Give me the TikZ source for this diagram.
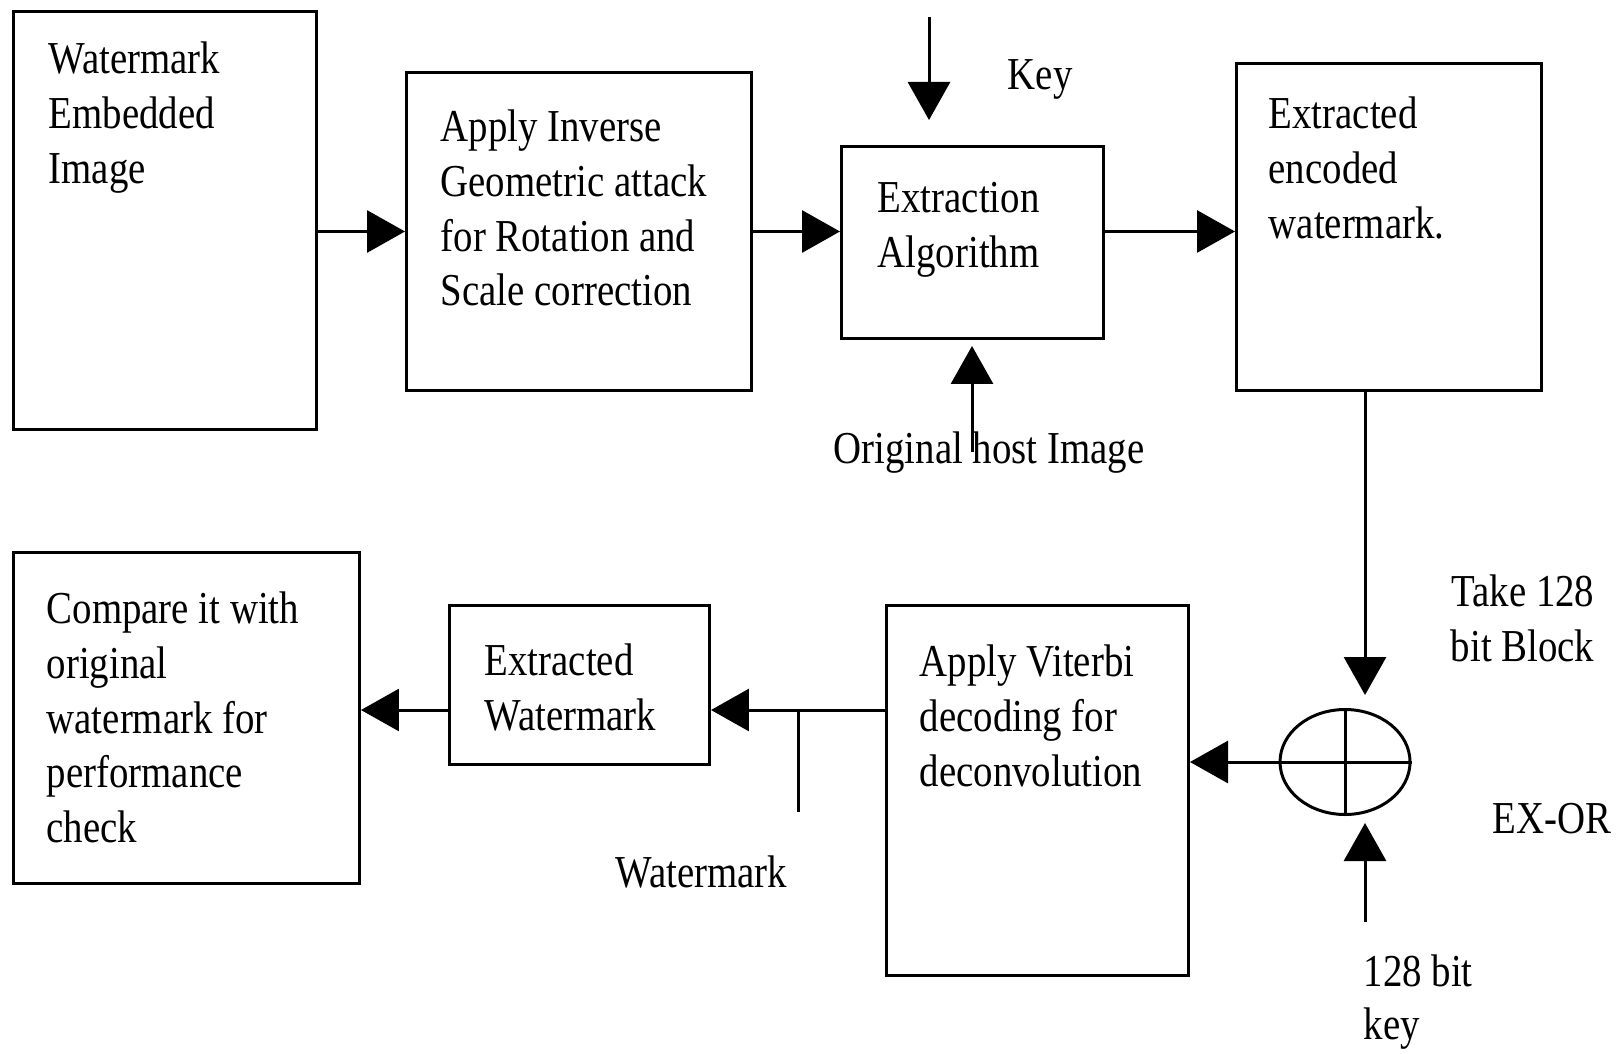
\documentclass[tikz,border=0pt]{standalone}
\usepackage{fontspec}
\setmainfont{Liberation Serif}[FakeStretch=0.85]
\usetikzlibrary{arrows.meta,shapes.geometric}
\tikzset{
  box/.style={draw, line width=0.85pt, inner sep=0pt, anchor=north west},
  lbl/.style={align=left, inner sep=0pt, anchor=north west, font=\fontsize{13}{15.6}\selectfont},
  tag/.style={inner sep=0pt, anchor=base west, font=\fontsize{13}{15.6}\selectfont},
  arr/.style={line width=0.85pt, -{Triangle[length=3.8mm,width=4.2mm]}}
}
\begin{document}
\begin{tikzpicture}[x=0.1mm, y=-0.1mm]
  \useasboundingbox (0,0) rectangle (1616,1053);
  % blocks
  \node[box, minimum width=30.3mm, minimum height=41.8mm] (img) at (12,10) {};
  \node[box, minimum width=34.5mm, minimum height=31.8mm] (inv) at (405,71) {};
  \node[box, minimum width=26.2mm, minimum height=19.2mm] (ext) at (840,145) {};
  \node[box, minimum width=30.5mm, minimum height=32.7mm] (enc) at (1235,62) {};
  \node[box, minimum width=30.2mm, minimum height=37.0mm] (vit) at (885,604) {};
  \node[box, minimum width=26.0mm, minimum height=15.9mm] (wm) at (448,604) {};
  \node[box, minimum width=34.6mm, minimum height=33.1mm] (cmp) at (12,551) {};
  \node[draw, ellipse, line width=0.85pt, inner sep=0pt,
    minimum width=13mm, minimum height=10.5mm] (xor) at (1345,762) {};
  \draw[line width=0.85pt] (xor.west) -- (xor.east) (xor.north) -- (xor.south);
  % texts
  \node[lbl] (imgtxt) at (48,41) {Watermark\\Embedded\\Image};
  \node[lbl] (invtxt) at (440,109) {Apply Inverse\\Geometric attack\\for Rotation and\\Scale correction};
  \node[lbl] (exttxt) at (877,182) {Extraction\\Algorithm};
  \node[lbl] (enctxt) at (1268,96) {Extracted\\encoded\\watermark.};
  \node[lbl] (vittxt) at (919,644) {Apply Viterbi\\decoding for\\deconvolution};
  \node[lbl] (wmtxt) at (484,643) {Extracted\\Watermark};
  \node[lbl] (cmptxt) at (46,591) {Compare it with\\original\\watermark for\\performance\\check};
  \node[tag] (key) at (1007,90) {Key};
  \node[tag] (host) at (833,463) {Original host Image};
  \node[tag] (wmk) at (615,887) {Watermark};
  \node[tag] (exor) at (1492,833) {EX-OR};
  \node[lbl, align=right, anchor=north east] (take) at (1595,574) {Take 128\\bit Block};
  \node[lbl, font=\fontsize{13}{15}\selectfont] (keybits) at (1363,954) {128 bit\\key};
  % free ends
  \coordinate (keytop) at (929,17);
  \coordinate (hostend) at (972,452);
  \coordinate (blk) at (1365,697);
  \coordinate (kbot) at (1365,922);
  \coordinate (jn) at (798,710);
  \coordinate (jnend) at (798,812);
  % connectors
  \draw[arr] (img.east |- inv.west) -- (inv.west);
  \draw[arr] (inv.east) -- (inv.east -| ext.west);
  \draw[arr] (ext.east |- inv.east) -- (enc.west |- inv.east);
  \draw[arr, shorten >=2.5mm] (keytop) -- (ext.north -| keytop);
  \draw[arr, shorten >=0.6mm] (hostend) -- (ext.south -| hostend);
  \draw[arr, shorten >=1.3mm] (enc.south -| blk) -- (xor.north -| blk);
  \draw[arr, shorten >=0.7mm] (kbot) -- (xor.south -| kbot);
  \draw[arr] (xor.west) -- (vit.east |- xor.west);
  \draw[arr] (vit.west |- jn) -- (wm.east |- jn);
  \draw[line width=0.85pt] (jn) -- (jnend);
  \draw[arr] (wm.west |- jn) -- (cmp.east |- jn);
\end{tikzpicture}
\end{document}
